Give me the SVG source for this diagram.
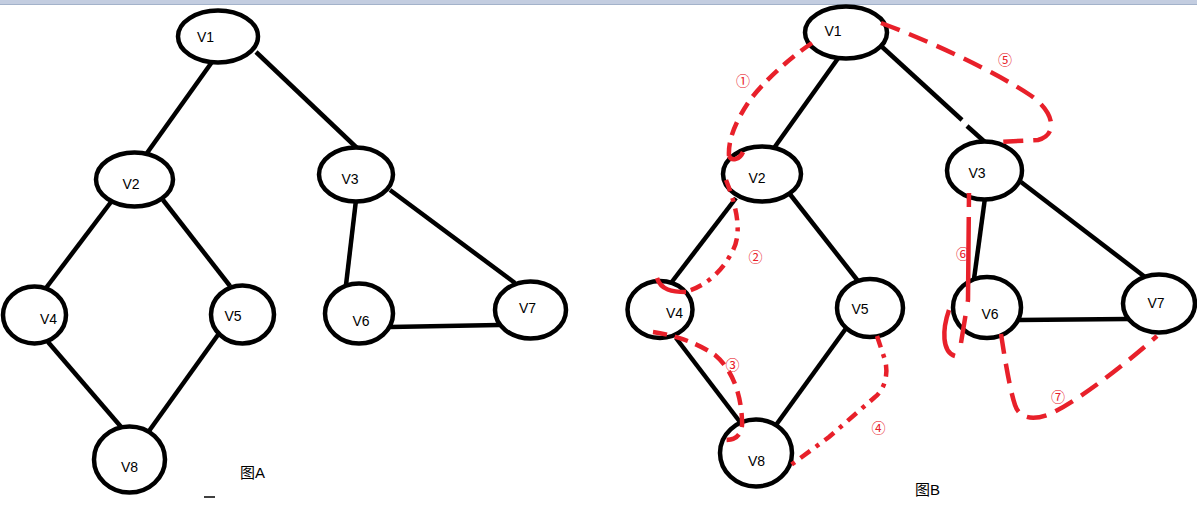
<svg xmlns="http://www.w3.org/2000/svg" width="1197" height="507" viewBox="0 0 1197 507">
<style>
.e{fill:#fff;stroke:#000;stroke-width:4.5}
.l{stroke:#000;stroke-width:4.5;fill:none}
.t{font-family:"Liberation Sans",Arial,sans-serif;font-size:14px;fill:#000;text-anchor:middle}
.r{stroke:#e8202a;stroke-width:4.5;fill:none;stroke-dasharray:14 8}
.rl{stroke:#e8202a;stroke-width:4.5;fill:none;stroke-dasharray:20 10}
.rd{stroke:#e8202a;stroke-width:4.5;fill:none;stroke-dasharray:12 7 4 7}
.rs{stroke:#e8202a;stroke-width:4.5;fill:none}
.n{font-family:"Noto Sans CJK SC","DejaVu Sans",sans-serif;font-size:14px;fill:#e8202a;text-anchor:middle}
.c{font-family:"Liberation Sans","Noto Sans CJK SC",sans-serif;font-size:15px;fill:#000}
</style>
<rect x="0" y="0" width="1197" height="507" fill="#fff"/>
<rect x="0" y="0" width="1197" height="4" fill="#c3cde0"/>
<line x1="0" y1="4.5" x2="1197" y2="4.5" stroke="#a3b2ca" stroke-width="1"/>
<g id="connectors">
<line class="l" x1="212" y1="62" x2="147" y2="153"/>
<line class="l" x1="256" y1="52" x2="357" y2="148"/>
<line class="l" x1="111" y1="202" x2="46" y2="288"/>
<line class="l" x1="163" y1="200" x2="230" y2="286"/>
<line class="l" x1="356" y1="200" x2="346" y2="285"/>
<line class="l" x1="390" y1="190" x2="515" y2="283"/>
<line class="l" x1="390" y1="327" x2="499" y2="325"/>
<line class="l" x1="48" y1="342" x2="122" y2="428"/>
<line class="l" x1="220" y1="332" x2="149" y2="431"/>
<line class="l" x1="839" y1="57" x2="774" y2="148"/>
<line class="l" x1="880" y1="45" x2="962" y2="120"/>
<line class="l" x1="967" y1="126" x2="986" y2="143"/>
<line class="l" x1="736" y1="198" x2="671" y2="283"/>
<line class="l" x1="789" y1="193" x2="858" y2="281"/>
<line class="l" x1="985" y1="198" x2="974" y2="279"/>
<line class="l" x1="1021" y1="182" x2="1145" y2="277"/>
<line class="l" x1="1018" y1="320" x2="1128" y2="319"/>
<line class="l" x1="676" y1="338" x2="740" y2="422"/>
<line class="l" x1="847" y1="327" x2="776" y2="425"/>
</g>
<g id="A-V1"><ellipse class="e" cx="218" cy="36.5" rx="40" ry="26"/><text class="t" x="205.5" y="42">V1</text></g>
<g id="A-V2"><ellipse class="e" cx="134.5" cy="179.5" rx="38.5" ry="27"/><text class="t" x="131" y="189">V2</text></g>
<g id="A-V3"><ellipse class="e" cx="356" cy="174.5" rx="37" ry="27"/><text class="t" x="350" y="184">V3</text></g>
<g id="A-V4"><ellipse class="e" cx="34.5" cy="315" rx="31.5" ry="28.5"/><text class="t" x="48.5" y="324">V4</text></g>
<g id="A-V5"><ellipse class="e" cx="242.5" cy="314.5" rx="31.5" ry="29"/><text class="t" x="233" y="321">V5</text></g>
<g id="A-V6"><ellipse class="e" cx="359" cy="313.5" rx="34" ry="30"/><text class="t" x="361" y="326">V6</text></g>
<g id="A-V7"><ellipse class="e" cx="530.5" cy="310" rx="35.5" ry="28.5"/><text class="t" x="527.5" y="313">V7</text></g>
<g id="A-V8"><ellipse class="e" cx="129.5" cy="459.5" rx="35.5" ry="33"/><text class="t" x="129.5" y="472">V8</text></g>
<text class="c" x="240" y="478">图A</text>
<line x1="204" y1="497" x2="215" y2="497" stroke="#000" stroke-width="1.5"/>
<g id="B-V1"><ellipse class="e" cx="846" cy="32.5" rx="41" ry="26"/><text class="t" x="833" y="36">V1</text></g>
<g id="B-V2"><ellipse class="e" cx="762" cy="174" rx="39" ry="27.5"/><text class="t" x="757" y="183">V2</text></g>
<g id="B-V3"><ellipse class="e" cx="984.5" cy="170.5" rx="37.5" ry="29"/><text class="t" x="977" y="178">V3</text></g>
<g id="B-V4"><ellipse class="e" cx="660" cy="309.5" rx="32.5" ry="28.5"/><text class="t" x="674.5" y="318">V4</text></g>
<g id="B-V5"><ellipse class="e" cx="870" cy="308" rx="33" ry="29"/><text class="t" x="860" y="314">V5</text></g>
<g id="B-V6"><ellipse class="e" cx="987" cy="307.5" rx="34" ry="30.5"/><text class="t" x="990" y="319">V6</text></g>
<g id="B-V7"><ellipse class="e" cx="1159" cy="303.5" rx="36" ry="29"/><text class="t" x="1156" y="308">V7</text></g>
<g id="B-V8"><ellipse class="e" cx="756" cy="453" rx="36" ry="33.5"/><text class="t" x="756.5" y="466">V8</text></g>
<text class="c" x="915" y="495">图B</text>
<g id="traversal">
<path class="r" d="M812,43 C790,58 765,80 750,100 C735,122 728,140 729,156"/>
<path class="rs" d="M729,156 C732,162 740,159 743,152"/>
<path class="rd" d="M726,180 C738,210 742,235 732,252 C722,272 705,286 688,291"/>
<path class="rs" d="M657,278 C661,290 672,292 686,292"/>
<path class="r" d="M653,332 C680,336 700,345 715,355 C733,370 741,395 742,420 C743,432 738,440 726,440"/>
<path class="rd" d="M877,336 L885,360 C889,375 884,390 875,397 L829,437 L791,465"/>
<path class="rl" d="M881,23 C940,45 1000,75 1030,95 C1055,112 1058,135 1038,140 L998,142"/>
<path class="rs" style="stroke-dasharray:14 10 85 14 40" d="M969,193 L968,300 L961,343"/>
<path class="rs" d="M949,310 C942,330 942,352 955,356"/>
<path class="rl" d="M1001,334 C1005,360 1010,390 1015,405 C1020,420 1035,420 1050,414 C1080,400 1130,360 1157,336"/>
<text class="n" x="743" y="86">①</text>
<text class="n" x="755.5" y="262">②</text>
<text class="n" x="732.6" y="370">③</text>
<text class="n" x="878.4" y="433">④</text>
<text class="n" x="1005" y="64.5">⑤</text>
<text class="n" x="963" y="259">⑥</text>
<text class="n" x="1058" y="402">⑦</text>
</g>
</svg>
